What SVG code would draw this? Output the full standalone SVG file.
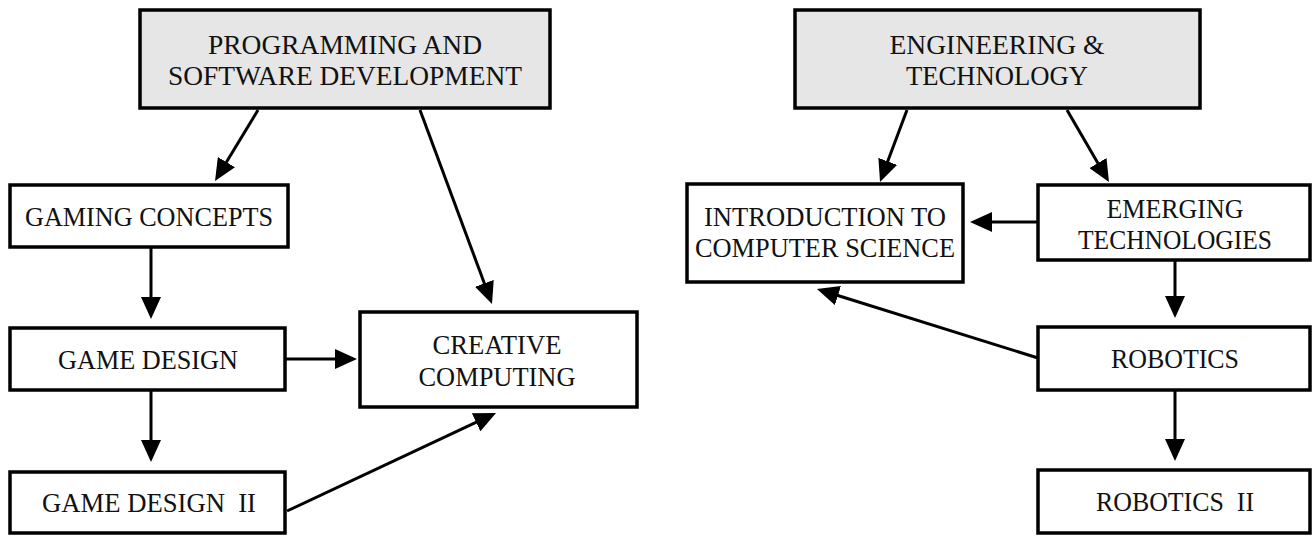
<svg xmlns="http://www.w3.org/2000/svg" width="1313" height="537" viewBox="0 0 1313 537">
<style>
.box{fill:#fff;stroke:#000;stroke-width:3.5}
.hdr{fill:#e6e6e6;stroke:#000;stroke-width:3.5}
.t{font-family:"Liberation Serif","Times New Roman",serif;font-size:28px;fill:#111;text-anchor:middle}
.c{stroke:#000;stroke-width:3;fill:none;marker-end:url(#ah)}
</style>
<defs>
<marker id="ah" markerUnits="userSpaceOnUse" markerWidth="22" markerHeight="20" refX="1" refY="10" orient="auto">
<path d="M0,0 L22,10 L0,20 z" fill="#000"/>
</marker>
</defs>
<g id="psd">
<rect class="hdr" x="140" y="10" width="410" height="98"/>
<text class="t" x="345" y="54" textLength="274" lengthAdjust="spacingAndGlyphs">PROGRAMMING AND</text>
<text class="t" x="345" y="85" textLength="354" lengthAdjust="spacingAndGlyphs">SOFTWARE DEVELOPMENT</text>
</g>
<g id="gaming-concepts">
<rect class="box" x="10" y="185" width="278" height="62"/>
<text class="t" x="149" y="226" textLength="248" lengthAdjust="spacingAndGlyphs">GAMING CONCEPTS</text>
</g>
<g id="game-design">
<rect class="box" x="10" y="328" width="275" height="62"/>
<text class="t" x="148" y="369" textLength="180" lengthAdjust="spacingAndGlyphs">GAME DESIGN</text>
</g>
<g id="game-design-2">
<rect class="box" x="10" y="472" width="275" height="61"/>
<text class="t" x="149" y="512" xml:space="preserve" textLength="214" lengthAdjust="spacingAndGlyphs">GAME DESIGN  II</text>
</g>
<g id="creative-computing">
<rect class="box" x="360" y="312" width="277" height="95"/>
<text class="t" x="497" y="354" textLength="129" lengthAdjust="spacingAndGlyphs">CREATIVE</text>
<text class="t" x="497" y="386" textLength="157" lengthAdjust="spacingAndGlyphs">COMPUTING</text>
</g>
<g id="eng-tech">
<rect class="hdr" x="795" y="10" width="405" height="98"/>
<text class="t" x="997" y="54" textLength="215" lengthAdjust="spacingAndGlyphs">ENGINEERING &amp;</text>
<text class="t" x="997" y="85" textLength="182" lengthAdjust="spacingAndGlyphs">TECHNOLOGY</text>
</g>
<g id="intro-cs">
<rect class="box" x="687" y="184" width="276" height="98"/>
<text class="t" x="825" y="226" textLength="242" lengthAdjust="spacingAndGlyphs">INTRODUCTION TO</text>
<text class="t" x="825" y="257" textLength="260" lengthAdjust="spacingAndGlyphs">COMPUTER SCIENCE</text>
</g>
<g id="emerging">
<rect class="box" x="1038" y="185" width="272" height="75"/>
<text class="t" x="1175" y="218" textLength="137" lengthAdjust="spacingAndGlyphs">EMERGING</text>
<text class="t" x="1175" y="249" textLength="194" lengthAdjust="spacingAndGlyphs">TECHNOLOGIES</text>
</g>
<g id="robotics">
<rect class="box" x="1038" y="327" width="272" height="63"/>
<text class="t" x="1175" y="368" textLength="128" lengthAdjust="spacingAndGlyphs">ROBOTICS</text>
</g>
<g id="robotics-2">
<rect class="box" x="1038" y="470" width="272" height="63"/>
<text class="t" x="1175" y="511" xml:space="preserve" textLength="158" lengthAdjust="spacingAndGlyphs">ROBOTICS  II</text>
</g>
<g id="connectors">
<line class="c" x1="258" y1="110" x2="225.9" y2="163"/>
<line class="c" x1="420" y1="110" x2="484.7" y2="284.3"/>
<line class="c" x1="151" y1="247" x2="151" y2="298"/>
<line class="c" x1="285" y1="359" x2="336" y2="359"/>
<line class="c" x1="151" y1="390" x2="151" y2="441"/>
<line class="c" x1="287" y1="511" x2="477" y2="421.9"/>
<line class="c" x1="907" y1="110" x2="887.4" y2="162.3"/>
<line class="c" x1="1067" y1="110" x2="1098.4" y2="163.9"/>
<line class="c" x1="1038" y1="222" x2="991" y2="222"/>
<line class="c" x1="1175" y1="260" x2="1175" y2="297"/>
<line class="c" x1="1038" y1="358" x2="837" y2="295.3"/>
<line class="c" x1="1175" y1="390" x2="1175" y2="440"/>
</g>
</svg>
